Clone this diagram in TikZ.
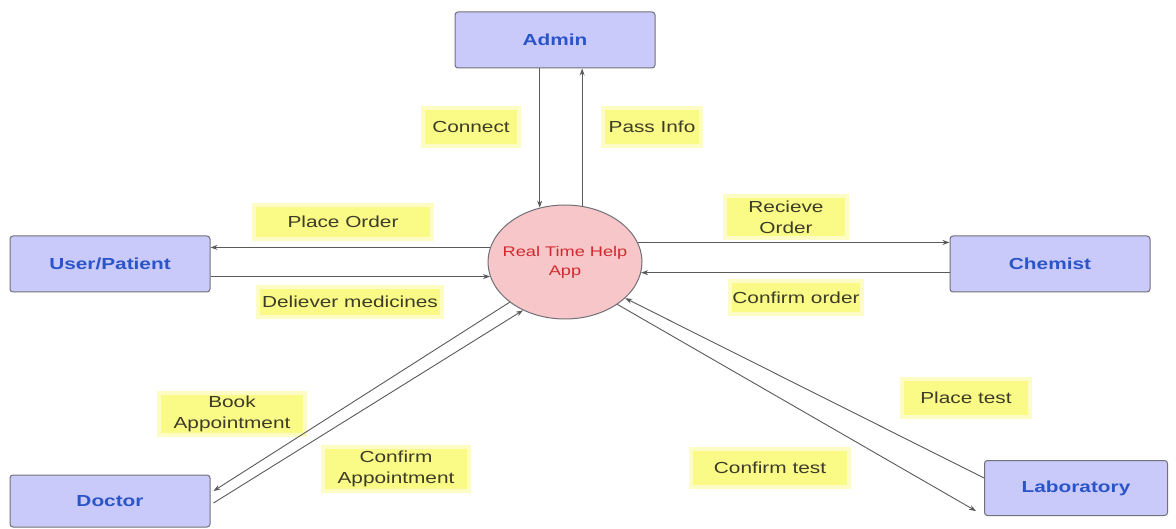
\documentclass[tikz,border=0pt]{standalone}
\usepackage{fontspec}
\setmainfont{Liberation Sans}[FakeStretch=1.3]
\usetikzlibrary{shapes.geometric,arrows.meta}
\definecolor{boxfill}{HTML}{CACAFA}
\definecolor{boxline}{HTML}{707078}
\definecolor{boxtext}{HTML}{2A55C8}
\definecolor{appfill}{HTML}{F7C6C8}
\definecolor{apptext}{HTML}{D02A30}
\definecolor{lblfill}{HTML}{FAFA86}
\definecolor{lblhalo}{HTML}{FCFCC4}
\definecolor{lbltext}{HTML}{3C3C28}
\definecolor{arrcol}{HTML}{5A5A5A}
\tikzset{
  entity/.style={draw=boxline, line width=1pt, fill=boxfill, rounded corners=3pt,
    minimum width=200pt, minimum height=56pt, inner sep=0pt,
    text=boxtext, font=\fontsize{16}{20}\selectfont\bfseries},
  appnode/.style={ellipse, draw=boxline, line width=1pt, fill=appfill,
    minimum width=154pt, minimum height=114pt, inner xsep=-9pt, inner ysep=0pt, align=center,
    text=apptext, font=\fontsize{14}{19}\selectfont},
  lbl/.style={fill=lblfill, draw=lblhalo, line width=4pt, inner sep=0pt,
    align=center, text=lbltext, font=\fontsize{16}{21}\selectfont},
  arr/.style={draw=arrcol, line width=0.9pt, -{Stealth[length=7pt,width=5pt]}}
}
\begin{document}
\begin{tikzpicture}[x=1pt,y=-1pt]
\useasboundingbox[fill=white] (0,0) rectangle (1176,529);
% entities
\node[entity] (admin) at (555,40) {Admin};
\node[entity] (user) at (110,264) {User/Patient};
\node[entity] (chem) at (1050,264) {Chemist};
\node[entity, minimum height=52pt] (doc) at (110,501) {Doctor};
\node[entity, minimum width=183pt, minimum height=55pt] (lab) at (1076,488) {Laboratory};
\node[appnode] (app) at (565,262) {Real Time Help\\App};
% labels
\node[lbl, minimum width=96pt, minimum height=38pt] (lconnect) at (471,127) {Connect};
\node[lbl, minimum width=98pt, minimum height=38pt] (lpass) at (652,127) {Pass Info};
\node[lbl, minimum width=178pt, minimum height=34pt] (lplace) at (343,222) {Place Order};
\node[lbl, minimum width=184pt, minimum height=30pt] (ldeliver) at (350,302) {Deliever medicines};
\node[lbl, minimum width=122pt, minimum height=42pt] (lrecv) at (786,217) {Recieve\\Order};
\node[lbl, minimum width=132pt, minimum height=33pt] (lconf) at (796,298) {Confirm order};
\node[lbl, minimum width=146pt, minimum height=42pt] (lbook) at (232,414) {Book\\Appointment};
\node[lbl, minimum width=146pt, minimum height=44pt] (lconfapp) at (396,469) {Confirm\\Appointment};
\node[lbl, minimum width=128pt, minimum height=38pt] (lptest) at (966,398) {Place test};
\node[lbl, minimum width=158pt, minimum height=38pt] (lctest) at (770,468) {Confirm test};
% connectors
\draw[arr] (app.115 |- admin.south) -- (app.115);
\draw[arr] (app.73) -- (app.73 |- admin.south);
\draw[arr] (app.169) -- (app.169 -| user.east);
\draw[arr] (app.191 -| user.east) -- (app.191);
\draw[arr] (app.15) -- (app.15 -| chem.west);
\draw[arr] (app.352 -| chem.west) -- (app.352);
\draw[arr] (app.216) -- ([xshift=3pt,yshift=10pt]doc.east);
\draw[arr] ([xshift=3pt,yshift=-2pt]doc.east) -- (app.229);
\draw[arr] ([yshift=10pt]lab.west) -- (app.329);
\draw[arr] (app.321) -- ([xshift=-8pt,yshift=5pt]lab.south west);
\end{tikzpicture}
\end{document}
